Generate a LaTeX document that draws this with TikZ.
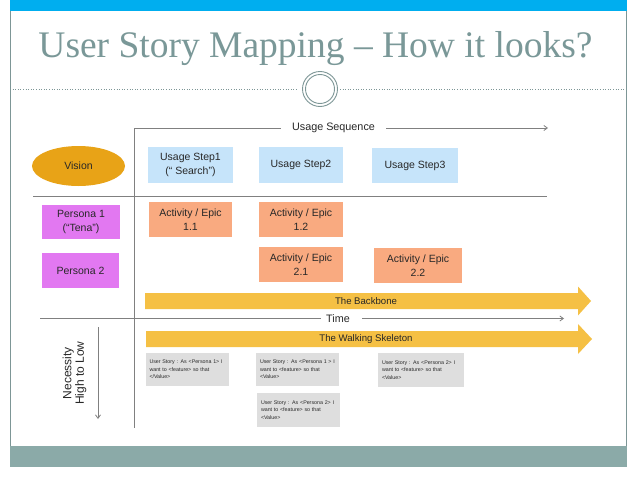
\documentclass[tikz,border=0pt]{standalone}
\usepackage{fontspec}
\setmainfont{Liberation Sans}
\newfontfamily\titlefont[Ligatures=TeX]{Liberation Serif}
\usetikzlibrary{shapes.geometric,arrows.meta}
\definecolor{topblue}{RGB}{0,174,239}
\definecolor{botteal}{RGB}{139,170,168}
\definecolor{framec}{RGB}{125,150,150}
\definecolor{titlec}{RGB}{122,152,152}
\definecolor{visionc}{RGB}{232,163,23}
\definecolor{stepc}{RGB}{198,228,250}
\definecolor{personac}{RGB}{226,120,241}
\definecolor{actc}{RGB}{249,170,128}
\definecolor{storyc}{RGB}{222,222,222}
\definecolor{arrowc}{RGB}{245,192,68}
\definecolor{linec}{RGB}{128,128,128}
\definecolor{txtc}{RGB}{40,40,40}
\tikzset{
  boxtext/.style={font=\fontsize{10.5}{13.5}\selectfont, text=txtc, align=center, inner sep=0pt},
  stepbox/.style={boxtext, fill=stepc, minimum width=85pt, minimum height=36pt},
  actbox/.style={boxtext, fill=actc, minimum width=84pt, minimum height=35pt},
  personabox/.style={boxtext, fill=personac, minimum width=78pt, minimum height=35pt},
  storybox/.style={fill=storyc, minimum width=83pt, minimum height=34pt, inner xsep=4pt, inner ysep=0pt,
     align=left, text width=75pt, font=\fontsize{5.3}{7.4}\selectfont, text=txtc},
  gline/.style={draw=linec, line width=0.8pt},
  garrow/.style={gline, -{Straight Barb[length=3.5pt,width=5pt]}},
  axislabel/.style={font=\fontsize{10.8}{13}\selectfont, text=txtc, inner sep=0pt},
  bigarrow/.style={fill=arrowc},
  arrowtext/.style={font=\fontsize{9.6}{11}\selectfont, text=black!85, inner sep=0pt}
}
\begin{document}
\begin{tikzpicture}[x=1pt,y=-1pt]
\useasboundingbox (0,0) rectangle (638,479);
\fill[white] (0,0) rectangle (638,479);
% slide frame
\fill[topblue] (10,0) rectangle (627,11);
\fill[botteal] (10,446) rectangle (627,467);
\draw[framec, line width=0.9pt] (10.5,11) -- (10.5,446);
\draw[framec, line width=0.9pt] (626.5,11) -- (626.5,446);
% title
\node[font=\titlefont\fontsize{37.5}{40}\selectfont, text=titlec, anchor=base, inner sep=0pt] (title) at (315.5,57) {User Story Mapping – How it looks?};
% dotted separator with circle
\coordinate (dl0) at (10,89);
\coordinate (dl1) at (298,89);
\coordinate (dr0) at (340,89);
\coordinate (dr1) at (627,89);
\draw[framec, line width=0.6pt, dotted] (dl0) -- (dl1);
\draw[framec, line width=0.6pt, dotted] (dr0) -- (dr1);
\node[circle, draw=framec, line width=0.9pt, minimum size=35pt, inner sep=0pt] (ring) at (320,89) {};
\node[circle, draw=framec, line width=0.9pt, minimum size=29pt, inner sep=0pt] (ringin) at (320,89) {};
% axes
\coordinate (vtop) at (134,128);
\coordinate (vbot) at (134,428);
\coordinate (useqend) at (281,128);
\coordinate (useqa) at (386,128);
\coordinate (useqb) at (548,128);
\node[axislabel] (useq) at (333.5,128) {Usage Sequence};
\draw[gline] (vtop) -- (vbot);
\draw[gline] (vtop) -- (useqend);
\draw[garrow] (useqa) -- (useqb);
\coordinate (h1a) at (33,196);
\coordinate (h1b) at (547,196);
\draw[gline] (h1a) -- (h1b);
\coordinate (t0) at (40,318.5);
\coordinate (t1) at (321,318.5);
\coordinate (t2) at (362,318.5);
\coordinate (t3) at (564,318.5);
\node[axislabel] (time) at (338,318.5) {Time};
\draw[gline] (t0) -- (t1);
\draw[garrow] (t2) -- (t3);
\coordinate (n0) at (98,327);
\coordinate (n1) at (98,419);
\draw[garrow] (n0) -- (n1);
\node[font=\fontsize{12}{12.5}\selectfont, text=txtc, align=center, rotate=90, inner sep=0pt] (necess) at (74.5,373) {Necessity\\High to Low};
% vision and steps
\node[ellipse, fill=visionc, minimum width=93pt, minimum height=40pt, boxtext] (vision) at (78.5,166) {Vision};
\node[stepbox] (step1) at (190.5,165) {Usage Step1\\(“ Search”)};
\node[stepbox, minimum width=84pt] (step2) at (301,165) {Usage Step2};
\node[stepbox, minimum width=86pt, minimum height=35pt] (step3) at (415,165.5) {Usage Step3};
% personas
\node[personabox, minimum height=34pt] (p1) at (81,222) {Persona 1\\(“Tena”)};
\node[personabox, minimum width=77pt] (p2) at (80.5,270.5) {Persona 2};
% activities
\node[actbox, minimum width=83pt] (a11) at (190.5,219.5) {Activity / Epic\\1.1};
\node[actbox] (a12) at (301,219.5) {Activity / Epic\\1.2};
\node[actbox] (a21) at (301,264.5) {Activity / Epic\\2.1};
\node[actbox, minimum width=88pt] (a22) at (418,265.5) {Activity / Epic\\2.2};
% big arrows
\fill[bigarrow] (145,293) -- (578,293) -- (578,286.5) -- (591,301) -- (578,315.5) -- (578,309) -- (145,309) -- cycle;
\node[arrowtext] (backbone) at (366,301) {The Backbone};
\fill[bigarrow] (146,331) -- (578,331) -- (578,324) -- (592,339) -- (578,354) -- (578,347) -- (146,347) -- cycle;
\node[arrowtext] (skeleton) at (366,339) {The Walking Skeleton};
% user stories
\node[storybox, minimum width=82pt, minimum height=33pt] (us1) at (187,369.5) {User Story : As <Persona 1> I\\want to <feature> so that\\</Value>};
\node[storybox, minimum height=33pt] (us2) at (297.5,369.5) {User Story : As <Persona 1 > I\\want to <feature> so that\\<Value>};
\node[storybox, minimum width=86pt, text width=78pt] (us3) at (421,370) {User Story : As <Persona 2> I\\want to <feature> so that\\<Value>};
\node[storybox] (us4) at (298.5,410) {User Story : As <Persona 2> I\\want to <feature> so that\\<Value>};
\end{tikzpicture}
\end{document}
